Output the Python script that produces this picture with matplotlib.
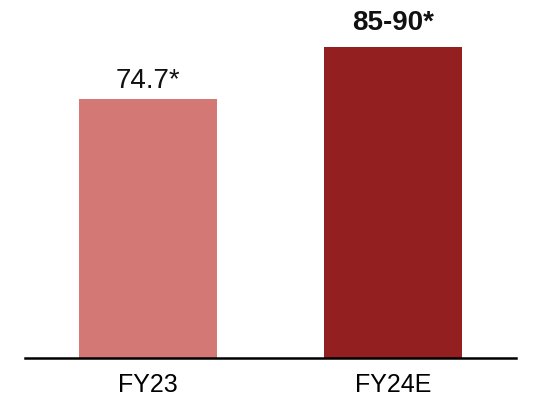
import matplotlib
matplotlib.use("Agg")
import matplotlib.pyplot as plt

categories = ["FY23", "FY24E"]
values = [74.7, 89.7]
labels = ["74.7*", "85-90*"]
label_weights = ["normal", "bold"]
colors = ["#D37874", "#941F21"]

plt.rcParams['font.family'] = ['Liberation Sans', 'DejaVu Sans']

fig = plt.figure(figsize=(5.44, 4.00), dpi=100)
ax = fig.add_axes([25/544, 1 - 358/400, 491/544, 346.7/400])
x = range(len(categories))
bars = ax.bar(x, values, width=0.562, color=colors)
ax.set_xlim(-0.5, 1.5)
ax.set_ylim(0, 100)
for i, (b, lab, w) in enumerate(zip(bars, labels, label_weights)):
    off = 8 if w == "normal" else 12
    ax.annotate(lab, (b.get_x() + b.get_width() / 2, b.get_height()),
                xytext=(0, off), textcoords="offset points",
                ha="center", va="baseline", fontsize=20, fontweight=w, color="#111111")
ax.set_xticks(list(x))
ax.set_xticklabels(categories, fontsize=18)
ax.tick_params(axis="x", length=0, pad=11)
ax.set_yticks([])
for s in ["top", "right", "left"]:
    ax.spines[s].set_visible(False)
ax.spines["bottom"].set_linewidth(1.8)
fig.savefig("out.png", dpi=100)
